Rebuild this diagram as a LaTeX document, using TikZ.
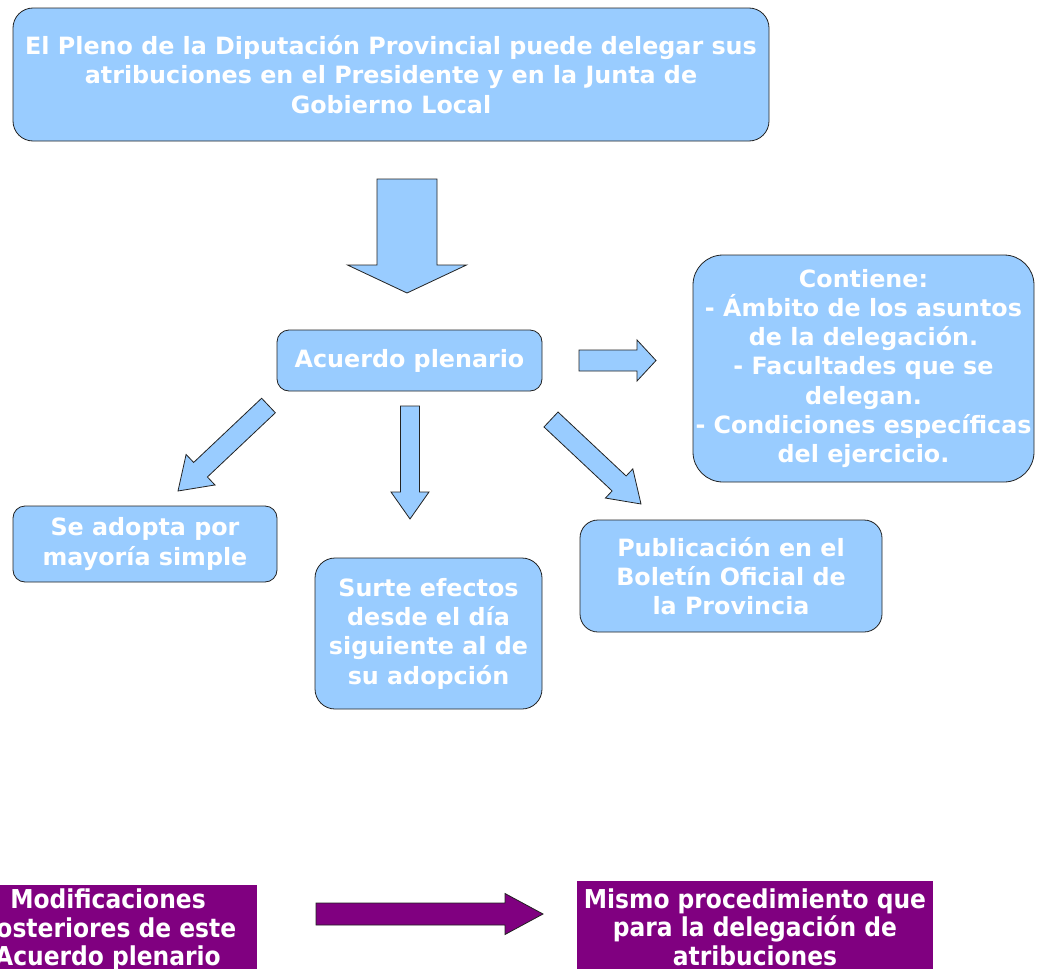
\documentclass[tikz,border=0pt]{standalone}
\usepackage{fontspec}
\setmainfont{DejaVu Sans}
\newfontfamily\condfont{DejaVu Sans Condensed}
\usetikzlibrary{calc}
\definecolor{boxblue}{HTML}{99CCFF}
\definecolor{boxpurple}{HTML}{800080}
\definecolor{edge}{HTML}{222222}
\tikzset{
  bluebox/.style={draw=edge, line width=0.8pt, fill=boxblue, text=white, align=center, inner sep=0pt,
    font=\bfseries\fontsize{23.8}{29.3}\selectfont},
  purplebox/.style={fill=boxpurple, text=white, align=center, inner sep=0pt,
    font=\condfont\bfseries\fontsize{26}{28.7}\selectfont},
  bluearrow/.style={draw=edge, line width=0.8pt, fill=boxblue, line join=miter},
  purplearrow/.style={draw=edge, line width=0.8pt, fill=boxpurple, line join=miter}
}
% #1 style, #2 start, #3 tip, #4 half shaft, #5 half head, #6 head length
\newcommand{\blockarrow}[6]{%
  \path[#1]
    ($#2!#4!90:#3$) -- ($($#3!#6!#2$)!#4!90:#3$) -- ($($#3!#6!#2$)!#5!90:#3$) -- #3
    -- ($($#3!#6!#2$)!#5!-90:#3$) -- ($($#3!#6!#2$)!#4!-90:#3$) -- ($#2!#4!-90:#3$) -- cycle;}
\begin{document}
\begin{tikzpicture}[x=1pt,y=-1pt]
\useasboundingbox (0,0) rectangle (1037,969);
\clip (0,0) rectangle (1037,969);

\node[bluebox, minimum width=756pt, minimum height=133pt, rounded corners=20pt] (top) at (391,74.5)
  {El Pleno de la Diputación Provincial puede delegar sus\\atribuciones en el Presidente y en la Junta de\\Gobierno Local};

\node[bluebox, minimum width=265pt, minimum height=61pt, rounded corners=12pt] (acuerdo) at (409.5,360.5)
  {Acuerdo plenario};

\node[bluebox, minimum width=341pt, minimum height=227pt, rounded corners=30pt] (contiene) at (863.5,368.5)
  {Contiene:\\- Ámbito de los asuntos\\de la delegación.\\- Facultades que se\\delegan.\\- Condiciones específicas\\del ejercicio.};

\node[bluebox, minimum width=264pt, minimum height=76pt, rounded corners=12pt] (adopta) at (145,544)
  {Se adopta por\\mayoría simple};

\node[bluebox, minimum width=227pt, minimum height=151pt, rounded corners=20pt] (surte) at (428.5,633.5)
  {Surte efectos\\desde el día\\siguiente al de\\su adopción};

\node[bluebox, minimum width=302pt, minimum height=112pt, rounded corners=18pt] (publi) at (731,576)
  {Publicación en el\\Boletín Oficial de\\la Provincia};

\node[purplebox, minimum width=298pt, minimum height=90pt] (modif) at (108,930)
  {Modificaciones\\posteriores de este\\Acuerdo plenario};

\node[purplebox, minimum width=356pt, minimum height=92pt] (mismo) at (755,927)
  {Mismo procedimiento que\\para la delegación de\\atribuciones};

% block arrows
\coordinate (a1s) at (407,179);   \coordinate (a1t) at (407,293);
\coordinate (a2s) at (579,360.5); \coordinate (a2t) at (656,360.5);
\coordinate (a3s) at (410,406);   \coordinate (a3t) at (410,519);
\coordinate (a4s) at (551,419.5); \coordinate (a4t) at (641,504);
\coordinate (a5s) at (268.5,405.5); \coordinate (a5t) at (178,491);
\coordinate (a6s) at (316,914);   \coordinate (a6t) at (543,914);

\blockarrow{bluearrow}{(a1s)}{(a1t)}{30pt}{59.5pt}{28pt}
\blockarrow{bluearrow}{(a2s)}{(a2t)}{10.5pt}{20.5pt}{19pt}
\blockarrow{bluearrow}{(a3s)}{(a3t)}{9.5pt}{19pt}{27pt}
\blockarrow{bluearrow}{(a4s)}{(a4t)}{10.25pt}{20pt}{30pt}
\blockarrow{bluearrow}{(a5s)}{(a5t)}{10pt}{21pt}{31pt}
\blockarrow{purplearrow}{(a6s)}{(a6t)}{11pt}{20.5pt}{38pt}
\end{tikzpicture}
\end{document}
